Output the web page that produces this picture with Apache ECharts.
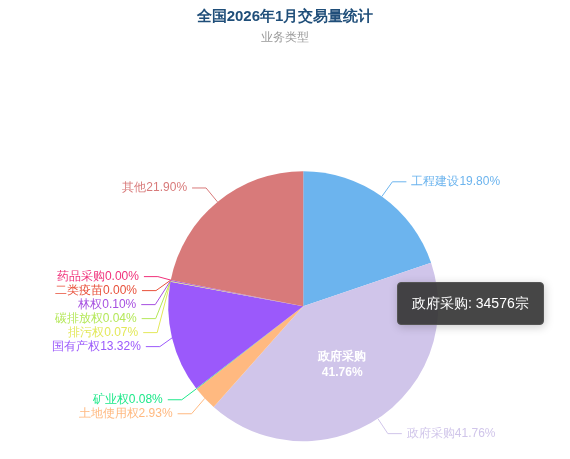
<!DOCTYPE html><html><head><meta charset="utf-8"><script src="https://cdn.jsdelivr.net/npm/echarts@6/dist/echarts.min.js"></script></head><body style="margin:0"><div id="c" style="width:570px;height:459px"></div><script>
const names=['工程建设','政府采购','土地使用权','矿业权','国有产权','排污权','碳排放权','林权','二类疫苗','药品采购','其他'];
const values=[16392,34576,2424,66,11027,58,33,83,1,2,18139];
const colors=['#6cb4ee','#d0c5ea','#ffb980','#1ee88a','#9b59fb','#e3e85a','#b5e85a','#a64fe0','#e8503a','#f0307a','#d87a7a'];
const data=names.map((n,i)=>({name:n,value:values[i],itemStyle:{color:colors[i]}}));
const chart=echarts.init(document.getElementById('c'));
chart.setOption({
title:{text:'全国2026年1月交易量统计',subtext:'业务类型',left:'center',top:4,textStyle:{fontSize:15,fontWeight:'bold',color:'#1f4e79'},subtextStyle:{color:'#999',fontSize:12},itemGap:8},
tooltip:{trigger:'item',formatter:p=>p.name+': '+p.value+'宗',backgroundColor:'rgba(50,50,50,0.9)',borderColor:'#555',textStyle:{color:'#fff',fontSize:14},padding:[10,14]},
series:[{type:'pie',center:['53.2%','66.7%'],radius:[0,135],data:data,startAngle:90,
label:{formatter:p=>p.name+p.percent.toFixed(2)+'%',color:'inherit',fontSize:12},labelLine:{length:18,length2:14},emphasis:{scale:false}},
{type:'pie',center:['53.2%','66.7%'],radius:[0,135],startAngle:90,silent:true,tooltip:{show:false},
data:data.map((d,i)=>({name:d.name,value:d.value,itemStyle:{color:'transparent'},label:{show:i===1}})),
label:{position:'inside',formatter:p=>p.name+'\n'+p.percent.toFixed(2)+'%',color:'#fff',fontWeight:'bold',fontSize:12,lineHeight:16},labelLine:{show:false}}]
});
setTimeout(()=>chart.dispatchAction({type:'showTip',seriesIndex:0,dataIndex:1,position:[397,282]}),100);
</script></body></html>
